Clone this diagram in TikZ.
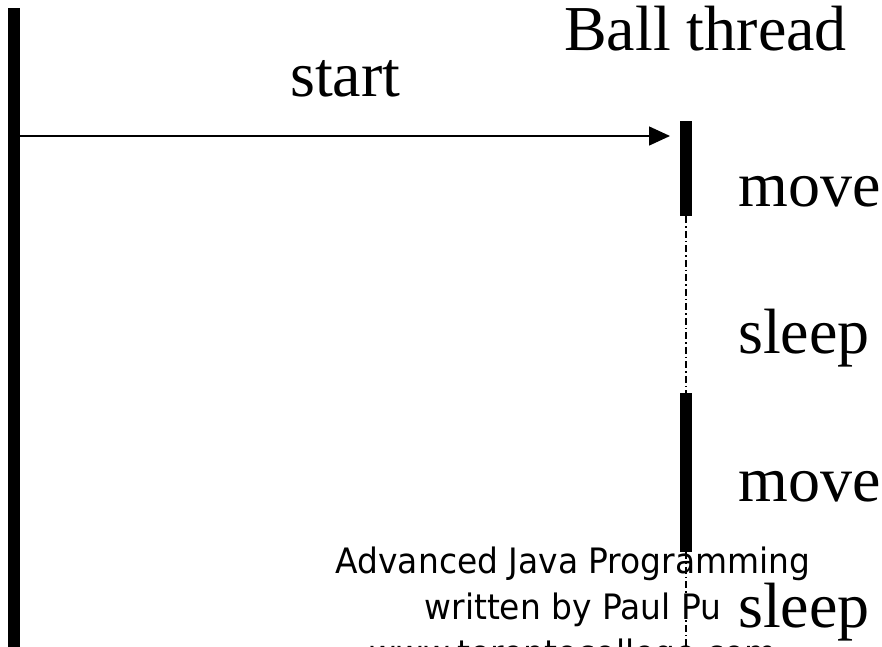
\documentclass[tikz,border=0pt]{standalone}
\usepackage{fontspec}
\setmainfont{Liberation Serif}
\newfontfamily\footfont{DejaVu Sans}
\usetikzlibrary{arrows.meta}
\begin{document}
\begin{tikzpicture}[x=1pt,y=-1pt,
  bar/.style={fill=black, draw=none, inner sep=0pt, minimum width=12pt, anchor=north},
  lbl/.style={font=\fontsize{64}{64}\selectfont, anchor=base west, inner sep=0pt},
  foot/.style={font=\footfont\fontsize{35}{35}\selectfont, anchor=base, inner sep=0pt},
  life/.style={line width=1.3pt, dash pattern=on 7pt off 3pt on 1.5pt off 3pt},
  msg/.style={line width=1.4pt, -{Triangle[length=21pt,width=19pt]}}]
\useasboundingbox (0,0) rectangle (882,646);
% lifelines
\node[bar, minimum height=640pt] (main) at (14,8) {};
\node[bar, minimum height=95pt] (bar1) at (686,121) {};
\node[bar, minimum height=159pt] (bar2) at (686,393) {};
\coordinate (end) at (686,646);
\draw[life] (bar1.south) -- (bar2.north);
\draw[life] (bar2.south) -- (end);
% message
\coordinate (tip) at (670,136);
\draw[msg] (main.east |- tip) -- (tip);
% labels
\node[lbl] (title) at (564,50) {Ball thread};
\node[lbl] (start) at (290,96) {start};
\node[lbl] (move1) at (738,206) {move};
\node[lbl] (sleep1) at (738,353) {sleep};
\node[lbl] (move2) at (738,501) {move};
\node[lbl] (sleep2) at (738,627) {sleep};
% footer
\node[foot] (f1) at (573,573) {\scalebox{0.94}[1]{Advanced Java Programming}};
\node[foot] (f2) at (573,619) {\scalebox{0.94}[1]{written by Paul Pu}};
\node[foot] (f3) at (573,665) {\scalebox{0.94}[1]{www.torontocollege.com}};
\end{tikzpicture}
\end{document}
